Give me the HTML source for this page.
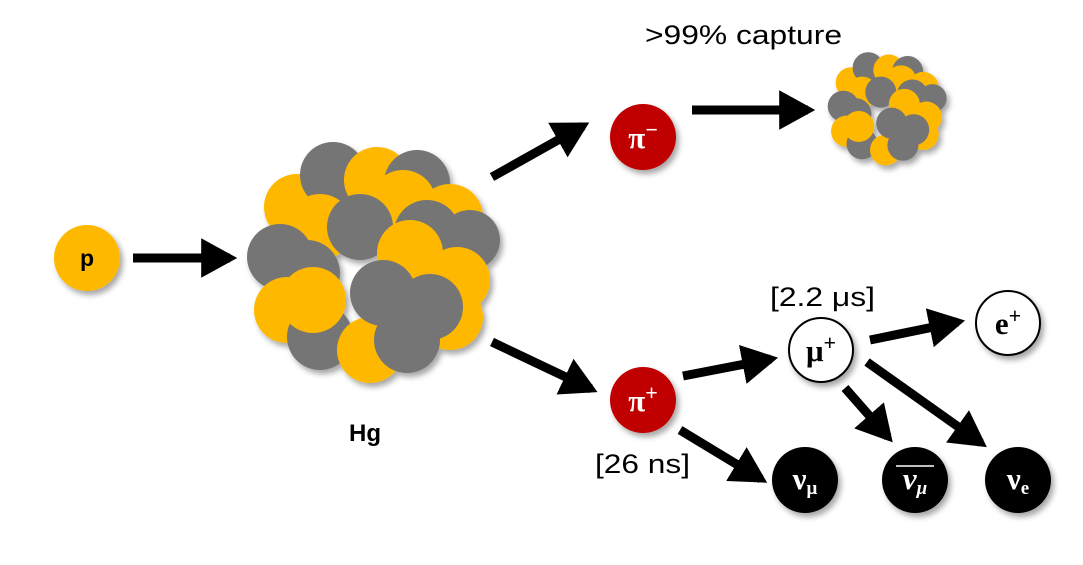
<!DOCTYPE html>
<html><head><meta charset="utf-8"><style>
html,body{margin:0;padding:0;background:#fff;}
svg{display:block;}
text{font-family:"Liberation Sans",sans-serif;}
.sym{font-family:"Liberation Serif",serif;font-weight:bold;}
</style></head><body>
<svg width="1083" height="565" viewBox="0 0 1083 565">
<defs>
<filter id="sh" x="-20%" y="-20%" width="150%" height="150%"><feDropShadow dx="3" dy="4" stdDeviation="3" flood-color="#000" flood-opacity="0.35"/></filter>
<marker id="ah" markerWidth="4" markerHeight="4.4" refX="3.2" refY="2.2" orient="auto" markerUnits="strokeWidth"><path d="M0,0 L4,2.2 L0,4.4 Z" fill="#000"/></marker>
<g id="nuc">
<circle cx="297" cy="207" r="33" fill="#FFB800"/>
<circle cx="333" cy="175" r="33" fill="#757575"/>
<circle cx="377" cy="180" r="33" fill="#FFB800"/>
<circle cx="417" cy="183" r="33" fill="#757575"/>
<circle cx="403" cy="203" r="33" fill="#FFB800"/>
<circle cx="450" cy="217" r="33" fill="#FFB800"/>
<circle cx="470" cy="240" r="30" fill="#757575"/>
<circle cx="320" cy="227" r="33" fill="#FFB800"/>
<circle cx="280" cy="257" r="33" fill="#757575"/>
<circle cx="360" cy="227" r="33" fill="#757575"/>
<circle cx="427" cy="233" r="33" fill="#757575"/>
<circle cx="457" cy="280" r="33" fill="#FFB800"/>
<circle cx="410" cy="253" r="33" fill="#FFB800"/>
<circle cx="307" cy="273" r="33" fill="#757575"/>
<circle cx="287" cy="310" r="33" fill="#FFB800"/>
<circle cx="450" cy="317" r="33" fill="#FFB800"/>
<circle cx="320" cy="337" r="33" fill="#757575"/>
<circle cx="370" cy="350" r="33" fill="#FFB800"/>
<circle cx="313" cy="300" r="33" fill="#FFB800"/>
<circle cx="430" cy="307" r="33" fill="#757575"/>
<circle cx="383" cy="293" r="33" fill="#757575"/>
<circle cx="407" cy="340" r="33" fill="#757575"/>
</g>
</defs>
<use href="#nuc" filter="url(#sh)"/>
<g filter="url(#sh)"><use href="#nuc" transform="translate(886,110) scale(0.47) translate(-371,-265)"/></g>
<text x="365" y="441" font-size="24" font-weight="bold" text-anchor="middle">Hg</text>
<text x="645" y="44" font-size="27" textLength="197" lengthAdjust="spacingAndGlyphs">&gt;99% capture</text>
<text x="770" y="306" font-size="27" textLength="105" lengthAdjust="spacingAndGlyphs">[2.2 μs]</text>
<text x="595" y="473" font-size="27" textLength="95" lengthAdjust="spacingAndGlyphs">[26 ns]</text>
<g stroke="#000" stroke-width="9" fill="none">
<line x1="133" y1="258" x2="230" y2="258" marker-end="url(#ah)"/>
<line x1="492" y1="177" x2="583" y2="126" marker-end="url(#ah)"/>
<line x1="692" y1="110" x2="808" y2="110" marker-end="url(#ah)"/>
<line x1="492" y1="342" x2="591" y2="389" marker-end="url(#ah)"/>
<line x1="683" y1="376" x2="771" y2="359" marker-end="url(#ah)"/>
<line x1="870" y1="340" x2="958" y2="322" marker-end="url(#ah)"/>
<line x1="680" y1="430" x2="761" y2="479" marker-end="url(#ah)"/>
<line x1="845" y1="388" x2="888" y2="437" marker-end="url(#ah)"/>
<line x1="867" y1="362" x2="981" y2="443" marker-end="url(#ah)"/>
</g>
<g filter="url(#sh)">
<circle cx="87" cy="258" r="33" fill="#FFB800"/>
<circle cx="643" cy="137" r="33" fill="#C00000"/>
<circle cx="643" cy="400" r="33" fill="#C00000"/>
<circle cx="821" cy="350" r="32" fill="#fff" stroke="#000" stroke-width="2"/>
<circle cx="1008" cy="323" r="32" fill="#fff" stroke="#000" stroke-width="2"/>
<circle cx="805" cy="480" r="33" fill="#000"/>
<circle cx="915" cy="480" r="33" fill="#000"/>
<circle cx="1018" cy="480" r="33" fill="#000"/>
</g>
<text x="87" y="266" font-size="23" font-weight="bold" text-anchor="middle">p</text>
<text x="643" y="148" font-size="31" fill="#fff" text-anchor="middle" class="sym">π<tspan font-size="22" dy="-11">−</tspan></text>
<text x="643" y="411" font-size="31" fill="#fff" text-anchor="middle" class="sym">π<tspan font-size="22" dy="-11">+</tspan></text>
<text x="821" y="361" font-size="31" text-anchor="middle" class="sym">μ<tspan font-size="22" dy="-11">+</tspan></text>
<text x="1008" y="334" font-size="31" text-anchor="middle" class="sym">e<tspan font-size="22" dy="-11">+</tspan></text>
<text x="805" y="489" font-size="31" fill="#fff" text-anchor="middle" class="sym">ν<tspan font-size="19" dy="5">μ</tspan></text>
<text x="915" y="489" font-size="31" fill="#fff" text-anchor="middle" class="sym" font-style="italic">ν<tspan font-size="19" dy="5">μ</tspan></text>
<line x1="896" y1="466" x2="934" y2="466" stroke="#fff" stroke-width="1.5"/>
<text x="1018" y="489" font-size="31" fill="#fff" text-anchor="middle" class="sym">ν<tspan font-size="19" dy="5">e</tspan></text>
</svg>
</body></html>
